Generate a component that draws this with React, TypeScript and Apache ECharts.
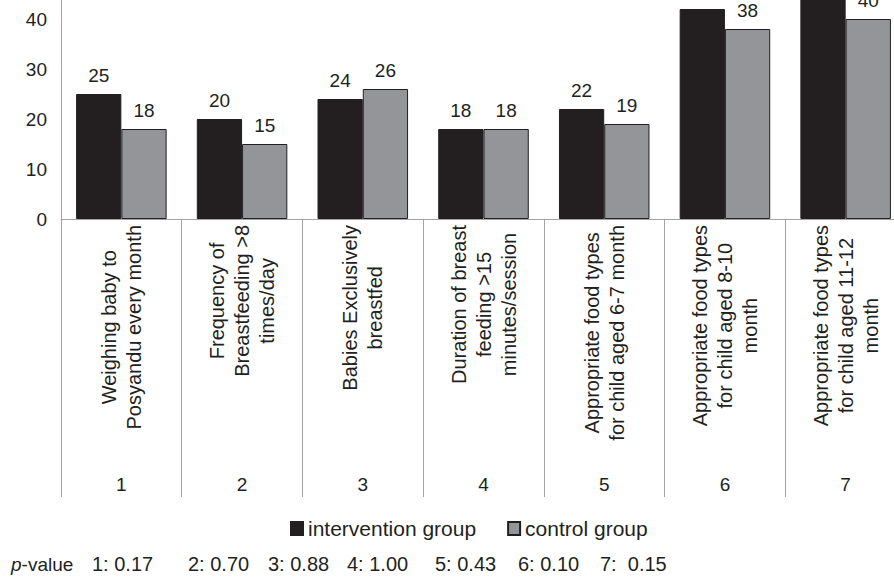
import React, { useEffect, useRef } from "react";
import * as echarts from "echarts";

const categoryLines: string[][] = [
  ["Weighing baby to", "Posyandu every month"],
  ["Frequency of", "Breastfeeding >8", "times/day"],
  ["Babies Exclusively", "breastfed"],
  ["Duration of breast", "feeding >15", "minutes/session"],
  ["Appropriate food types", "for child aged 6-7 month"],
  ["Appropriate food types", "for child aged 8-10", "month"],
  ["Appropriate food types", "for child aged 11-12", "month"],
];
const categoryNumbers = ["1", "2", "3", "4", "5", "6", "7"];
const interventionValues = [25, 20, 24, 18, 22, 42, 45];
const controlValues = [18, 15, 26, 18, 19, 38, 40];
const pValues = ["0.17", "0.70", "0.88", "1.00", "0.43", "0.10", "0.15"];
const seriesNames = ["intervention group", "control group"];

// layout of the p-value footnote (pixels)
const pValueX = [92, 188, 268, 347, 435, 518, 600];

const FONT = "'Liberation Sans', Arial, sans-serif";
const DARK = "#231f20";
const GRAY = "#939598";
const AXIS = "#a3a3a3";

export default function App() {
  const ref = useRef<HTMLDivElement>(null);
  useEffect(() => {
    if (!ref.current) return;
    const chart = echarts.init(ref.current, null, { renderer: "svg" });
    const categories = categoryLines.map((l) => l.join("\n"));
    const pTexts = pValues.map((p, i) => ({
      type: "text",
      x: pValueX[i],
      y: 564,
      style: {
        text: `${categoryNumbers[i]}:${i === 6 ? "  " : " "}${p}`,
        font: `20px ${FONT}`,
        fill: DARK,
        verticalAlign: "middle",
      },
    }));
    chart.setOption({
      animation: false,
      backgroundColor: "#ffffff",
      grid: {
        left: 61,
        right: -12,
        top: -31,
        bottom: 361,
        containLabel: false,
        outerBoundsMode: "none",
      },
      legend: {
        left: 290,
        top: 518,
        padding: 0,
        itemWidth: 12,
        itemHeight: 13,
        itemGap: 31,
        icon: "rect",
        textStyle: { fontFamily: FONT, fontSize: 21, color: DARK },
        data: seriesNames,
      },
      xAxis: [
        {
          type: "category",
          data: categories,
          axisLine: { show: true, lineStyle: { color: AXIS, width: 1 } },
          axisTick: { show: true, length: 278, lineStyle: { color: AXIS, width: 1 } },
          axisLabel: {
            rotate: 90,
            interval: 0,
            margin: 6,
            color: DARK,
            fontFamily: FONT,
            fontSize: 20,
            lineHeight: 25,
            formatter: (v: string) =>
              v
                .split("\n")
                .map((s) => `{c|${s}}`)
                .join("\n"),
            rich: {
              c: { align: "center", fontFamily: FONT, fontSize: 20, lineHeight: 25, color: DARK },
            },
          },
        },
        {
          type: "category",
          position: "bottom",
          data: categoryNumbers,
          axisLine: { show: false },
          axisTick: { show: false },
          axisLabel: { margin: 256, color: DARK, fontFamily: FONT, fontSize: 19 },
        },
      ],
      yAxis: {
        type: "value",
        min: 0,
        max: 50,
        interval: 10,
        axisLine: { show: true, lineStyle: { color: AXIS, width: 1 } },
        axisTick: { show: false },
        splitLine: { show: false },
        axisLabel: {
          margin: 14,
          color: DARK,
          fontFamily: FONT,
          fontSize: 19,
          showMaxLabel: false,
        },
      },
      series: [
        {
          name: seriesNames[0],
          type: "bar",
          data: interventionValues,
          barGap: "0%",
          barCategoryGap: "25%",
          itemStyle: { color: DARK, borderColor: DARK, borderWidth: 1 },
          label: { show: true, position: "top", distance: 9, color: DARK, fontFamily: FONT, fontSize: 19 },
        },
        {
          name: seriesNames[1],
          type: "bar",
          data: controlValues,
          barGap: "0%",
          barCategoryGap: "25%",
          itemStyle: { color: GRAY, borderColor: DARK, borderWidth: 1 },
          label: { show: true, position: "top", distance: 9, color: DARK, fontFamily: FONT, fontSize: 19 },
        },
      ],
      graphic: [
        {
          type: "text",
          x: 11,
          y: 564,
          style: {
            text: "{i|p}-value",
            font: `19px ${FONT}`,
            fill: DARK,
            verticalAlign: "middle",
            rich: { i: { fontStyle: "italic", fontFamily: FONT, fontSize: 19, fill: DARK } },
          },
        },
        ...pTexts,
      ],
    });
    return () => chart.dispose();
  }, []);
  return (
    <div
      ref={ref}
      style={{ position: "fixed", left: 0, top: 0, width: 894, height: 580, background: "#fff" }}
    />
  );
}
